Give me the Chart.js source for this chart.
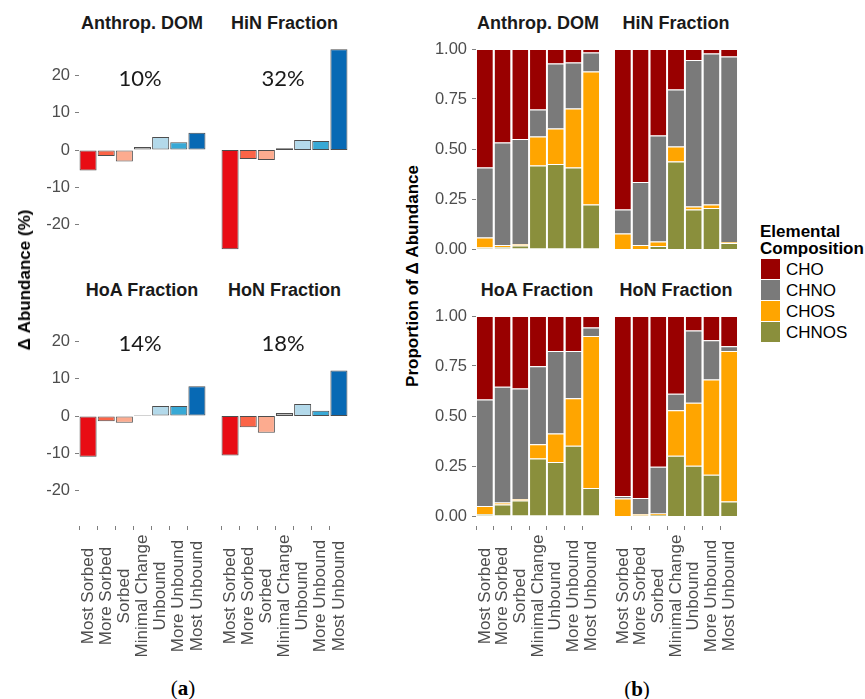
<!DOCTYPE html>
<html>
<head>
<meta charset="utf-8">
<script src="https://cdn.jsdelivr.net/npm/chart.js@4.4.1/dist/chart.umd.min.js"></script>
<style>
  body { margin: 0; background: #fff; font-family: "Liberation Sans", Arial, sans-serif; }
  #fig { position: relative; width: 865px; height: 699px; overflow: hidden; }
  .facet { position: absolute; }
  .lbl { position: absolute; white-space: nowrap; transform: translate(-50%, -50%); }
  .strip { font-weight: bold; font-size: 18px; color: #1a1a1a; }
  .pct { font-family: Lato, sans-serif; font-size: 22px; color: #1a1a1a; }
  .ytitle { font-weight: bold; font-size: 17px; color: #000; transform: translate(-50%, -50%) rotate(-90deg); }
  .panel { font-family: "Liberation Serif", serif; font-size: 21px; color: #000; }
  .legtitle { position: absolute; left: 760px; top: 223px; font-weight: bold; font-size: 17px; line-height: 17px; color: #000; white-space: nowrap; }
  .legkey { position: absolute; left: 761px; width: 19px; height: 20px; }
  .legtxt { position: absolute; left: 786px; font-size: 17px; color: #000; transform: translateY(-50%); }
</style>
</head>
<body>
<div id="fig"></div>
<script>
/* ---------- data ---------- */
const categories = ['Most Sorbed', 'More Sorbed', 'Sorbed', 'Minimal Change', 'Unbound', 'More Unbound', 'Most Unbound'];
const facetNames = ['Anthrop. DOM', 'HiN Fraction', 'HoA Fraction', 'HoN Fraction'];
const facetShare = ['10%', '32%', '14%', '18%'];

// (a) change in abundance, %
const deltaAnthrop = [-5.5, -1.6, -3.1, 0.8, 3.5, 2.05, 4.6];
const deltaHiN     = [-26.6, -2.4, -2.7, 0.5, 2.7, 2.4, 27.0];
const deltaHoA     = [-10.9, -1.4, -1.8, 0.3, 2.7, 2.7, 8.0];
const deltaHoN     = [-10.6, -3.0, -4.5, 0.8, 3.2, 1.4, 12.2];
const deltaColors  = ['#e80c14', '#fb6447', '#fcab8f', '#bdbdbd', '#b3d9ea', '#38a9d6', '#0769b4'];
const deltaTicks   = [-20, -10, 0, 10, 20];

// (b) proportion of change by elemental composition
const compNames  = ['CHO', 'CHNO', 'CHOS', 'CHNOS'];
const compColors = ['#990000', '#7a7a7a', '#ffa500', '#8a8f3c'];
const propTicks  = [0, 0.25, 0.5, 0.75, 1];

const anthropCHNOS = [0.008, 0.010, 0.017, 0.417, 0.425, 0.408, 0.223];
const anthropCHOS  = [0.049, 0.010, 0.008, 0.146, 0.178, 0.295, 0.665];
const anthropCHNO  = [0.350, 0.512, 0.525, 0.135, 0.325, 0.230, 0.095];
const anthropCHO   = [0.593, 0.468, 0.450, 0.302, 0.072, 0.067, 0.017];

const hinCHNOS = [0, 0, 0.015, 0.438, 0.197, 0.205, 0.030];
const hinCHOS  = [0.078, 0.020, 0.023, 0.075, 0.016, 0.018, 0.005];
const hinCHNO  = [0.119, 0.315, 0.530, 0.284, 0.732, 0.754, 0.928];
const hinCHO   = [0.803, 0.665, 0.432, 0.203, 0.055, 0.023, 0.037];

const hoaCHNOS = [0.010, 0.058, 0.077, 0.288, 0.270, 0.351, 0.140];
const hoaCHOS  = [0.040, 0.010, 0.008, 0.071, 0.143, 0.238, 0.760];
const hoaCHNO  = [0.532, 0.578, 0.552, 0.390, 0.412, 0.236, 0.042];
const hoaCHO   = [0.418, 0.354, 0.363, 0.251, 0.175, 0.175, 0.058];

const honCHNOS = [0, 0.003, 0.005, 0.301, 0.251, 0.206, 0.072];
const honCHOS  = [0.087, 0.007, 0.008, 0.228, 0.315, 0.476, 0.753];
const honCHNO  = [0.013, 0.080, 0.233, 0.082, 0.362, 0.197, 0.024];
const honCHO   = [0.900, 0.910, 0.754, 0.389, 0.072, 0.121, 0.151];

/* ---------- helpers ---------- */
const fig = document.getElementById('fig');
const FONT = '"Liberation Sans", Arial, sans-serif';

function addText(cls, txt, x, y) {
  const d = document.createElement('div');
  d.className = 'lbl ' + cls;
  d.innerHTML = txt;
  d.style.left = x + 'px';
  d.style.top = y + 'px';
  fig.appendChild(d);
}

// rotated, centred category labels under the bottom facets
const xLabels = {
  id: 'xLabels',
  afterDraw(chart, args, opts) {
    if (!opts.show) return;
    const sc = chart.scales.x, ctx = chart.ctx;
    ctx.save();
    ctx.font = '17px ' + FONT;
    ctx.fillStyle = '#4d4d4d';
    ctx.textAlign = 'center';
    ctx.textBaseline = 'middle';
    categories.forEach((c, i) => {
      ctx.save();
      ctx.translate(sc.getPixelForTick(i), chart.chartArea.bottom + 70);
      ctx.rotate(-Math.PI / 2);
      ctx.fillText(c, 0, 0);
      ctx.restore();
    });
    ctx.restore();
  }
};

function facet(o) {
  const xH = o.bottom ? 140 : 0;
  const div = document.createElement('div');
  div.className = 'facet';
  div.style.left = (o.plotLeft - o.axisW) + 'px';
  div.style.top = o.plotTop + 'px';
  const cv = document.createElement('canvas');
  cv.width = o.axisW + o.plotW;
  cv.height = o.plotH + xH;
  div.appendChild(cv);
  fig.appendChild(div);

  const tickGrid = { drawOnChartArea: false, drawTicks: true, tickLength: 4, tickColor: '#7f7f7f', tickWidth: 1 };

  new Chart(cv, {
    type: 'bar',
    data: { labels: categories, datasets: o.datasets },
    options: {
      responsive: false, animation: false, devicePixelRatio: 1,
      layout: { padding: 0 },
      plugins: { legend: { display: false }, tooltip: { enabled: false }, xLabels: { show: o.bottom } },
      scales: {
        x: {
          display: o.bottom, stacked: !!o.stacked, offset: true,
          grid: tickGrid, border: { display: false }, ticks: { display: false },
          afterFit: s => { s.height = xH; s.paddingLeft = 0; s.paddingRight = 0; }
        },
        y: {
          display: o.axisW > 0, stacked: !!o.stacked, min: o.yMin, max: o.yMax,
          grid: tickGrid, border: { display: false },
          ticks: { font: { size: 16.5, family: FONT }, color: '#4d4d4d', padding: 5, callback: o.yFmt },
          afterBuildTicks: s => { s.ticks = o.yTicks.map(v => ({ value: v })); },
          afterFit: s => { s.width = o.axisW; s.paddingTop = 0; s.paddingBottom = 0; }
        }
      }
    },
    plugins: [xLabels]
  });
}

function deltaSet(values) {
  return [{
    data: values, backgroundColor: deltaColors,
    borderColor: '#4d4d4d', borderWidth: 1, borderSkipped: false,
    barPercentage: 0.94, categoryPercentage: 1
  }];
}

function propSets(chnos, chos, chno, cho) {
  const series = [cho, chno, chos, chnos];
  return [3, 2, 1, 0].map(k => ({
    label: compNames[k], data: series[k], backgroundColor: compColors[k],
    borderColor: 'rgba(255,255,255,0.75)', borderWidth: { top: 1, left: 0, right: 0, bottom: 0 },
    borderSkipped: false, barPercentage: 0.9, categoryPercentage: 1
  }));
}

/* ---------- panel (a) ---------- */
const aLeft = [79, 221], aTop = [40, 306];
const aData = [deltaAnthrop, deltaHiN, deltaHoA, deltaHoN];
aData.forEach((vals, i) => {
  const col = i % 2, row = Math.floor(i / 2);
  facet({
    plotLeft: aLeft[col], plotTop: aTop[row], plotW: 127, plotH: 220,
    axisW: col === 0 ? 49 : 0, bottom: row === 1,
    datasets: deltaSet(vals), yMin: -29.5, yMax: 29.5,
    yTicks: deltaTicks, yFmt: v => String(v)
  });
});

/* ---------- panel (b) ---------- */
const bLeft = [476, 614], bTop = [39, 306];
const bData = [
  propSets(anthropCHNOS, anthropCHOS, anthropCHNO, anthropCHO),
  propSets(hinCHNOS, hinCHOS, hinCHNO, hinCHO),
  propSets(hoaCHNOS, hoaCHOS, hoaCHNO, hoaCHO),
  propSets(honCHNOS, honCHOS, honCHNO, honCHO)
];
bData.forEach((sets, i) => {
  const col = i % 2, row = Math.floor(i / 2);
  facet({
    plotLeft: bLeft[col], plotTop: bTop[row], plotW: 124, plotH: 220,
    axisW: col === 0 ? 51 : 0, bottom: row === 1, stacked: true,
    datasets: sets, yMin: -0.05, yMax: 1.05,
    yTicks: propTicks, yFmt: v => v.toFixed(2)
  });
});

/* ---------- text ---------- */
const stripA = [[142, 23], [284.5, 23], [142, 290], [284.5, 290]];
const stripB = [[538, 23], [676, 23], [537, 290], [676, 290]];
const pctPos = [[140, 77], [283, 77], [140, 342], [283, 342]];
facetNames.forEach((n, i) => {
  addText('strip', n, stripA[i][0], stripA[i][1]);
  addText('strip', n, stripB[i][0], stripB[i][1]);
  addText('pct', facetShare[i], pctPos[i][0], pctPos[i][1]);
});
addText('ytitle', 'Δ Abundance (%)', 25, 280);
addText('ytitle', 'Proportion of Δ Abundance', 413, 276);
addText('panel', '(<b>a</b>)', 183, 688);
addText('panel', '(<b>b</b>)', 637, 689);

// legend
const lt = document.createElement('div');
lt.className = 'legtitle';
lt.innerHTML = 'Elemental<br>Composition';
fig.appendChild(lt);
compNames.forEach((n, i) => {
  const k = document.createElement('div');
  k.className = 'legkey';
  k.style.top = (259 + i * 21) + 'px';
  k.style.background = compColors[i];
  fig.appendChild(k);
  const t = document.createElement('div');
  t.className = 'legtxt';
  t.style.top = (270 + i * 21) + 'px';
  t.textContent = n;
  fig.appendChild(t);
});
</script>
</body>
</html>
